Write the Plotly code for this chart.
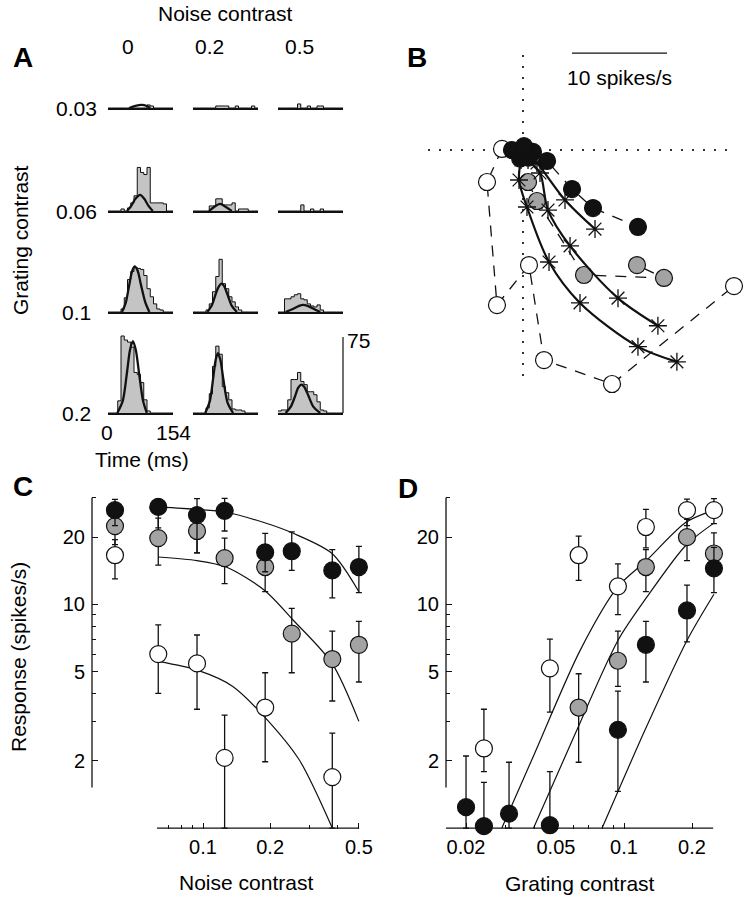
import plotly.graph_objects as go

W, H = 749, 900
FONT = "Liberation Sans, Arial, Helvetica, sans-serif"
TXT = 21
TICK_TXT = 20
INK = "#111111"
GRAY_MARK = "#a3a3a3"
HIST_FILL = "#c4c4c4"

# ======================= Panel A data =======================
A_NOISE = ["0", "0.2", "0.5"]
A_GRATING = ["0.03", "0.06", "0.1", "0.2"]
A_TIME_MAX = 154     # ms
A_BIN_MS = 7.7       # ms per bin
A_SCALE_BAR = 75     # spikes/s

HIST_G03_N0 = [0, 0, 0, 0, 0, 0, 0, 0, 0, 0, 0, 0, 3, 2, 0, 0, 0, 0, 0, 0]
HIST_G03_N02 = [0, 0, 0, 0, 0, 0, 0, 2, 2, 2, 2, 0, 0, 2, 0, 0, 0, 0, 2, 0]
HIST_G03_N05 = [0, 0, 0, 0, 0, 0, 4, 0, 0, 2, 0, 0, 2, 2, 0, 0, 0, 0, 0, 0]
HIST_G06_N0 = [0, 0, 0, 0, 2, 0, 3, 8, 15, 43, 38, 36, 43, 8, 8, 8, 8, 7, 0, 0]
HIST_G06_N02 = [0, 0, 0, 0, 0, 5, 5, 12, 12, 6, 6, 6, 8, 0, 2, 2, 2, 0, 0, 0]
HIST_G06_N05 = [0, 0, 0, 0, 0, 0, 0, 6, 0, 0, 2, 0, 0, 2, 0, 0, 0, 0, 0, 0]
HIST_G1_N0 = [0, 0, 0, 0, 3, 14, 32, 40, 44, 43, 42, 36, 23, 15, 8, 3, 2, 0, 0, 0]
HIST_G1_N02 = [0, 0, 0, 0, 2, 8, 20, 35, 52, 28, 23, 15, 10, 5, 2, 0, 0, 0, 0, 0]
HIST_G1_N05 = [0, 0, 13, 13, 15, 17, 18, 13, 12, 8, 6, 5, 7, 2, 0, 0, 0, 0, 0, 0]
HIST_G2_N0 = [0, 0, 0, 12, 76, 72, 70, 65, 40, 38, 30, 13, 2, 0, 0, 0, 0, 0, 0, 0]
HIST_G2_N02 = [0, 0, 0, 0, 5, 19, 46, 66, 58, 26, 20, 13, 4, 3, 3, 2, 0, 0, 0, 0]
HIST_G2_N05 = [2, 3, 3, 13, 33, 33, 40, 31, 28, 21, 21, 18, 11, 3, 2, 0, 0, 0, 0, 0]

# Gaussian fits (time ms, rate spikes/s)
FIT_G03_N0_T = [50, 65, 79, 92, 100]
FIT_G03_N0_R = [0, 2, 3, 2, 0]
FIT_G06_N0_T = [45, 55, 65, 76, 86, 96, 106]
FIT_G06_N0_R = [0, 5, 12, 16, 12, 5, 0]
FIT_G06_N02_T = [38, 50, 64, 78, 92]
FIT_G06_N02_R = [0, 4, 7, 4, 0]
FIT_G1_N0_T = [33, 42, 50, 57, 63, 70, 78, 88, 98]
FIT_G1_N0_R = [0, 9, 26, 40, 45, 41, 27, 10, 0]
FIT_G1_N02_T = [34, 45, 54, 61, 67, 73, 82, 92, 104]
FIT_G1_N02_R = [0, 7, 18, 25, 28, 26, 17, 6, 0]
FIT_G1_N05_T = [18, 35, 50, 59, 70, 85, 100]
FIT_G1_N05_R = [0, 3, 6, 7, 6, 3, 0]
FIT_G2_N0_T = [22, 35, 45, 52, 59, 66, 74, 83, 92]
FIT_G2_N0_R = [0, 12, 40, 62, 71, 62, 38, 12, 0]
FIT_G2_N02_T = [29, 40, 48, 54, 59, 65, 72, 82, 95]
FIT_G2_N02_R = [0, 12, 35, 53, 59, 52, 33, 10, 0]
FIT_G2_N05_T = [18, 30, 40, 48, 55, 62, 72, 84, 100]
FIT_G2_N05_R = [0, 6, 16, 25, 28, 26, 17, 6, 0]

A_HISTS = {
    ("0.03", "0"): HIST_G03_N0, ("0.03", "0.2"): HIST_G03_N02, ("0.03", "0.5"): HIST_G03_N05,
    ("0.06", "0"): HIST_G06_N0, ("0.06", "0.2"): HIST_G06_N02, ("0.06", "0.5"): HIST_G06_N05,
    ("0.1", "0"): HIST_G1_N0, ("0.1", "0.2"): HIST_G1_N02, ("0.1", "0.5"): HIST_G1_N05,
    ("0.2", "0"): HIST_G2_N0, ("0.2", "0.2"): HIST_G2_N02, ("0.2", "0.5"): HIST_G2_N05,
}
A_FITS = {
    ("0.03", "0"): (FIT_G03_N0_T, FIT_G03_N0_R),
    ("0.06", "0"): (FIT_G06_N0_T, FIT_G06_N0_R),
    ("0.06", "0.2"): (FIT_G06_N02_T, FIT_G06_N02_R),
    ("0.1", "0"): (FIT_G1_N0_T, FIT_G1_N0_R),
    ("0.1", "0.2"): (FIT_G1_N02_T, FIT_G1_N02_R),
    ("0.1", "0.5"): (FIT_G1_N05_T, FIT_G1_N05_R),
    ("0.2", "0"): (FIT_G2_N0_T, FIT_G2_N0_R),
    ("0.2", "0.2"): (FIT_G2_N02_T, FIT_G2_N02_R),
    ("0.2", "0.5"): (FIT_G2_N05_T, FIT_G2_N05_R),
}

# ======================= Panel B data (response vectors, spikes/s) =======================
B_WHITE_X = [-2.21, -3.79, -2.74, 0.63, 2.21, 9.37, 22.21]
B_WHITE_Y = [0.11, -3.37, -16.32, -12.11, -22.11, -24.63, -14.32]
B_GRAY_X = [0.53, 1.47, 6.42, 14.84, 12.0]
B_GRAY_Y = [-3.37, -5.37, -13.16, -13.47, -12.11]
B_BLACK_X = [-1.16, -0.3, 1.05, 0.6, 0.1, 2.53, 5.16, 7.37, 12.1]
B_BLACK_Y = [0.0, -0.9, -0.2, -0.8, 0.4, -1.16, -4.11, -6.11, -8.1]
B_MODEL_WHITE_X = [-0.21, -0.42, 0.42, 2.74, 6.0, 12.1, 16.2]
B_MODEL_WHITE_Y = [-1.05, -3.16, -6.0, -11.79, -16.1, -20.7, -22.3]
B_MODEL_GRAY_X = [0.53, 1.79, 2.63, 4.95, 10.0, 14.2]
B_MODEL_GRAY_Y = [-1.05, -2.42, -6.32, -10.1, -15.6, -18.5]
B_MODEL_BLACK_X = [0.74, 1.47, 4.42, 7.58]
B_MODEL_BLACK_Y = [-0.74, -1.37, -5.26, -8.32]
B_SCALE_BAR = 10          # spikes/s
B_SCALE_BAR_X0 = 5.16
B_SCALE_BAR_Y = 10.2
B_REF_V = [10.0, -24.7]   # extent of dotted vertical reference line
B_REF_H = [-10.0, 22.1]   # extent of dotted horizontal reference line

# ======================= Panel C data =======================
NOISE_CONTRAST = [0, 0.063, 0.094, 0.125, 0.19, 0.25, 0.38, 0.5]
NOISE_ZERO_POS = 0.0403   # where the "0" condition is drawn on the log axis
C_BLACK = [26.4, 27.3, 25.1, 26.2, 17.1, 17.3, 14.2, 14.7]
C_BLACK_HI = [29.5, 29.6, 29.7, 29.8, 20.8, 21.1, 17.6, 18.2]
C_BLACK_LO = [22.5, 22.0, 17.0, 21.3, 14.0, 14.2, 10.7, 11.3]
C_GRAY = [22.4, 19.8, 21.3, 16.1, 14.7, 7.4, 5.7, 6.6]
C_GRAY_HI = [27.0, 24.3, 25.0, 19.8, 18.5, 9.6, 7.6, 8.4]
C_GRAY_LO = [18.5, 15.0, 17.0, 12.4, 11.4, 4.95, 3.7, 4.5]
C_WHITE = [16.6, 6.0, 5.45, 2.06, 3.46, None, 1.69, None]
C_WHITE_HI = [19.5, 8.1, 7.3, 3.2, 4.95, None, 2.66, None]
C_WHITE_LO = [13.0, 4.0, 3.4, 1.0, 1.98, None, 1.0, None]
C_FIT_BLACK_X = [0.063, 0.094, 0.125, 0.186, 0.254, 0.379, 0.5]
C_FIT_BLACK_Y = [27.3, 26.6, 25.9, 23.3, 20.8, 16.9, 11.4]
C_FIT_GRAY_X = [0.063, 0.094, 0.127, 0.188, 0.254, 0.379, 0.5]
C_FIT_GRAY_Y = [16.3, 15.7, 14.7, 11.6, 8.5, 5.45, 3.0]
C_FIT_WHITE_X = [0.063, 0.095, 0.136, 0.19, 0.27, 0.38]
C_FIT_WHITE_Y = [5.56, 5.07, 4.3, 3.12, 2.02, 1.0]

# ======================= Panel D data =======================
GRATING_CONTRAST = [0.020, 0.024, 0.031, 0.047, 0.063, 0.094, 0.125, 0.19, 0.25]
D_WHITE = [None, 2.27, None, 5.18, 16.6, 12.05, 22.2, 26.4, 26.4]
D_WHITE_HI = [None, 3.4, None, 7.0, 20.2, 15.2, 26.6, 29.6, 29.7]
D_WHITE_LO = [None, 1.79, None, 3.3, 12.8, 9.0, 17.9, 22.5, 23.0]
D_GRAY = [None, None, None, None, 3.46, 5.6, 14.7, 20.0, 16.9]
D_GRAY_HI = [None, None, None, None, 4.9, 7.6, 17.6, 24.0, 20.9]
D_GRAY_LO = [None, None, None, None, 1.97, 4.3, 11.4, 15.7, 13.5]
D_BLACK = [1.24, 1.02, 1.16, 1.03, None, 2.75, 6.6, 9.4, 14.5]
D_BLACK_HI = [2.1, 1.6, 1.97, 1.79, None, 4.1, 8.4, 12.2, 18.0]
D_BLACK_LO = [1.0, 1.0, 1.0, 1.0, None, 1.46, 4.5, 6.8, 11.3]
D_FIT_WHITE_X = [0.0288, 0.04, 0.0638, 0.094, 0.1264, 0.188, 0.25]
D_FIT_WHITE_Y = [1.0, 2.13, 6.2, 12.0, 15.8, 23.3, 26.4]
D_FIT_GRAY_X = [0.0398, 0.06, 0.094, 0.1264, 0.188, 0.25]
D_FIT_GRAY_Y = [1.0, 2.56, 6.9, 10.8, 18.4, 23.1]
D_FIT_BLACK_X = [0.08, 0.125, 0.19, 0.25]
D_FIT_BLACK_Y = [1.0, 2.8, 6.9, 11.1]

# ======================= helpers =======================
def px_x(p):
    return p / W


def px_y(p):
    return 1 - p / H


fig = go.Figure()
layout = dict(
    width=W, height=H, margin=dict(l=0, r=0, t=0, b=0),
    paper_bgcolor="white", plot_bgcolor="rgba(0,0,0,0)",
    showlegend=False, template="none",
    font=dict(family=FONT, size=TXT, color="black"),
)
annotations = []
shapes = []


def ax_names(k):
    s = "" if k == 1 else str(k)
    return "xaxis" + s, "yaxis" + s, "x" + s, "y" + s


def ann(text, x, y, size=TXT, xanchor="center", yanchor="middle", angle=0):
    annotations.append(dict(text=text, x=px_x(x), y=px_y(y), xref="paper", yref="paper",
                            showarrow=False, xanchor=xanchor, yanchor=yanchor,
                            textangle=angle, font=dict(family=FONT, size=size, color="black")))


# ======================= Panel A =======================
A_COLS_PX = [(108, 173), (193, 258), (278, 343)]
A_ROWS_BASE_PX = [108, 211, 312, 413]
A_PANEL_H_PX = 92
A_PX_PER_UNIT = 76 / 75

k = 0
for r, g in enumerate(A_GRATING):
    for c, n in enumerate(A_NOISE):
        k += 1
        xn, yn, xr, yr = ax_names(k)
        x0, x1 = A_COLS_PX[c]
        base = A_ROWS_BASE_PX[r]
        layout[xn] = dict(domain=[px_x(x0), px_x(x1)], range=[0, A_TIME_MAX], anchor=yr,
                          showline=True, linecolor=INK, linewidth=1.5, ticks="",
                          showticklabels=False, showgrid=False, zeroline=False)
        layout[yn] = dict(domain=[px_y(base), px_y(base - A_PANEL_H_PX)],
                          range=[0, A_PANEL_H_PX / A_PX_PER_UNIT], anchor=xr, visible=False)
        counts = A_HISTS[(g, n)]
        edges = [i * A_BIN_MS for i in range(len(counts) + 1)]
        fig.add_trace(go.Scatter(x=edges, y=counts + [counts[-1]], mode="lines",
                                 line=dict(shape="hv", color=INK, width=1),
                                 fill="tozeroy", fillcolor=HIST_FILL,
                                 xaxis=xr, yaxis=yr, hoverinfo="skip"))
        if (g, n) in A_FITS:
            t, v = A_FITS[(g, n)]
            fig.add_trace(go.Scatter(x=t, y=v, mode="lines",
                                     line=dict(shape="spline", smoothing=0.8, color=INK, width=2.3),
                                     xaxis=xr, yaxis=yr, hoverinfo="skip"))

# scale bar for A
bar_x = A_COLS_PX[2][1]
bar_base = A_ROWS_BASE_PX[3]
shapes.append(dict(type="line", xref="paper", yref="paper",
                   x0=px_x(bar_x), x1=px_x(bar_x), y0=px_y(bar_base),
                   y1=px_y(bar_base - A_SCALE_BAR * A_PX_PER_UNIT),
                   line=dict(color=INK, width=1.2)))

ann("<b>A</b>", 23, 57, size=28)
ann("Noise contrast", 225, 14)
for lab, xp in zip(A_NOISE, [128, 210, 299]):
    ann(lab, xp, 47)
for lab, yp in zip(A_GRATING, A_ROWS_BASE_PX):
    ann(lab, 76, yp)
ann("Grating contrast", 21, 240, angle=-90)
ann("0", 107, 433)
ann(str(A_TIME_MAX), 173, 433)
ann("Time (ms)", 142, 459)
ann(str(A_SCALE_BAR), 358, 340)

# ======================= Panel B =======================
k += 1
xn, yn, xr, yr = ax_names(k)
B_ORIGIN_PX = (523, 150)
B_PX_PER_UNIT = 9.5
B_DOM_X = (420, 745)
B_DOM_Y = (40, 400)
layout[xn] = dict(domain=[px_x(B_DOM_X[0]), px_x(B_DOM_X[1])], anchor=yr, visible=False,
                  range=[(B_DOM_X[0] - B_ORIGIN_PX[0]) / B_PX_PER_UNIT,
                         (B_DOM_X[1] - B_ORIGIN_PX[0]) / B_PX_PER_UNIT])
layout[yn] = dict(domain=[px_y(B_DOM_Y[1]), px_y(B_DOM_Y[0])], anchor=xr, visible=False,
                  range=[(B_ORIGIN_PX[1] - B_DOM_Y[1]) / B_PX_PER_UNIT,
                         (B_ORIGIN_PX[1] - B_DOM_Y[0]) / B_PX_PER_UNIT])
dotted = dict(color="#333333", width=2, dash="2px,9px")
fig.add_trace(go.Scatter(x=[0, 0], y=B_REF_V, mode="lines", line=dotted, xaxis=xr, yaxis=yr, hoverinfo="skip"))
fig.add_trace(go.Scatter(x=B_REF_H, y=[0, 0], mode="lines", line=dotted, xaxis=xr, yaxis=yr, hoverinfo="skip"))
fig.add_trace(go.Scatter(x=[B_SCALE_BAR_X0, B_SCALE_BAR_X0 + B_SCALE_BAR], y=[B_SCALE_BAR_Y] * 2,
                         mode="lines", line=dict(color=INK, width=1.2), xaxis=xr, yaxis=yr, hoverinfo="skip"))
annotations.append(dict(text=f"{B_SCALE_BAR} spikes/s", x=B_SCALE_BAR_X0 + B_SCALE_BAR / 2,
                        y=B_SCALE_BAR_Y - 2.6, xref=xr, yref=yr, showarrow=False,
                        font=dict(family=FONT, size=TXT, color="black")))

dashed = dict(color=INK, width=1.3, dash="11px,9px")
for bx, by, fillc in [(B_WHITE_X, B_WHITE_Y, "white"), (B_GRAY_X, B_GRAY_Y, GRAY_MARK),
                      (B_BLACK_X, B_BLACK_Y, INK)]:
    fig.add_trace(go.Scatter(x=bx, y=by, mode="lines+markers", line=dashed,
                             marker=dict(symbol="circle", size=17, color=fillc,
                                         line=dict(color=INK, width=1.2)),
                             cliponaxis=False, xaxis=xr, yaxis=yr, hoverinfo="skip"))
for mx, my in [(B_MODEL_WHITE_X, B_MODEL_WHITE_Y), (B_MODEL_GRAY_X, B_MODEL_GRAY_Y),
               (B_MODEL_BLACK_X, B_MODEL_BLACK_Y)]:
    fig.add_trace(go.Scatter(x=mx, y=my, mode="lines+markers",
                             line=dict(color=INK, width=2.2, shape="spline", smoothing=0.9),
                             marker=dict(symbol="asterisk-open", size=15,
                                         line=dict(color=INK, width=1.3)),
                             cliponaxis=False, xaxis=xr, yaxis=yr, hoverinfo="skip"))
ann("<b>B</b>", 417, 57, size=28)

# ======================= Panels C and D =======================
CD_DOM_Y = (490, 842)          # px, plot area (extends a little below the x axis)
CD_XAXIS_PX = 829              # px, where the x axis sits
CD_Y_RANGE = [0.301 - (CD_DOM_Y[1] - 761) / 223, 1.301 + (537 - CD_DOM_Y[0]) / 223]
Y_MAJOR = [2, 5, 10, 20]
Y_MINOR = [3, 4, 6, 7, 8, 9, 30]
SPINE_Y = (1.52, 30)


def cd_axes(k, dom_x, x_range, x_major, x_minor, x_spine):
    xn, yn, xr, yr = ax_names(k)
    tick = dict(ticks="inside", ticklen=6, tickwidth=1.3, tickcolor=INK,
                showgrid=False, zeroline=False, showline=False,
                tickfont=dict(family=FONT, size=TICK_TXT, color="black"))
    layout[xn] = dict(type="log", domain=[px_x(dom_x[0]), px_x(dom_x[1])], range=x_range,
                      anchor="free", position=px_y(CD_XAXIS_PX),
                      tickmode="array", tickvals=x_major, ticktext=[str(v) for v in x_major],
                      minor=dict(tickmode="array", tickvals=x_minor, ticks="inside", ticklen=4,
                                 tickwidth=1.3, tickcolor=INK, showgrid=False),
                      ticklabelstandoff=4, **tick)
    layout[yn] = dict(type="log", domain=[px_y(CD_DOM_Y[1]), px_y(CD_DOM_Y[0])], range=CD_Y_RANGE,
                      anchor=xr, tickmode="array", tickvals=Y_MAJOR, ticktext=[str(v) for v in Y_MAJOR],
                      minor=dict(tickmode="array", tickvals=Y_MINOR, ticks="inside", ticklen=4,
                                 tickwidth=1.3, tickcolor=INK, showgrid=False),
                      ticklabelstandoff=6, **tick)
    shapes.append(dict(type="line", xref=xr + " domain", yref=yr, x0=0, x1=0,
                       y0=SPINE_Y[0], y1=SPINE_Y[1], line=dict(color=INK, width=1.3)))
    shapes.append(dict(type="line", xref=xr, yref=yr, x0=x_spine[0], x1=x_spine[1],
                       y0=1, y1=1, line=dict(color=INK, width=1.3)))
    return xr, yr


def series(xr, yr, xs, v, hi, lo, fillc):
    plus = [0 if a is None else h - a for a, h in zip(v, hi)]
    minus = [0 if a is None else a - l for a, l in zip(v, lo)]
    fig.add_trace(go.Scatter(x=xs, y=v, mode="markers",
                             marker=dict(symbol="circle", size=17, color=fillc,
                                         line=dict(color=INK, width=1.2)),
                             error_y=dict(type="data", symmetric=False, array=plus, arrayminus=minus,
                                          thickness=1.3, width=3, color=INK),
                             cliponaxis=False, xaxis=xr, yaxis=yr, hoverinfo="skip"))


def fit(xr, yr, xs, ys):
    fig.add_trace(go.Scatter(x=xs, y=ys, mode="lines",
                             line=dict(color=INK, width=1.2, shape="spline", smoothing=0.8),
                             xaxis=xr, yaxis=yr, hoverinfo="skip"))


# --- C ---
k += 1
xr, yr = cd_axes(k, (92, 372), [-1.4978, -0.2422], [0.1, 0.2, 0.5],
                 [0.07, 0.08, 0.09, 0.3, 0.4], (0.0622, 0.5))
noise_pos = [NOISE_ZERO_POS if v == 0 else v for v in NOISE_CONTRAST]
fit(xr, yr, C_FIT_WHITE_X, C_FIT_WHITE_Y)
fit(xr, yr, C_FIT_GRAY_X, C_FIT_GRAY_Y)
fit(xr, yr, C_FIT_BLACK_X, C_FIT_BLACK_Y)
series(xr, yr, noise_pos, C_WHITE, C_WHITE_HI, C_WHITE_LO, "white")
series(xr, yr, noise_pos, C_GRAY, C_GRAY_HI, C_GRAY_LO, GRAY_MARK)
series(xr, yr, noise_pos, C_BLACK, C_BLACK_HI, C_BLACK_LO, INK)
ann("<b>C</b>", 23, 486, size=28)
ann("Response (spikes/s)", 18, 657, angle=-90)
ann("Noise contrast", 246, 882)

# --- D ---
k += 1
xr, yr = cd_axes(k, (446, 728), [-1.7876, -0.5398], [0.02, 0.05, 0.1, 0.2],
                 [0.03, 0.04, 0.06, 0.07, 0.08, 0.09], (0.0163, 0.248))
fit(xr, yr, D_FIT_WHITE_X, D_FIT_WHITE_Y)
fit(xr, yr, D_FIT_GRAY_X, D_FIT_GRAY_Y)
fit(xr, yr, D_FIT_BLACK_X, D_FIT_BLACK_Y)
series(xr, yr, GRATING_CONTRAST, D_WHITE, D_WHITE_HI, D_WHITE_LO, "white")
series(xr, yr, GRATING_CONTRAST, D_GRAY, D_GRAY_HI, D_GRAY_LO, GRAY_MARK)
series(xr, yr, GRATING_CONTRAST, D_BLACK, D_BLACK_HI, D_BLACK_LO, INK)
ann("<b>D</b>", 408, 488, size=28)
ann("Grating contrast", 580, 883)

layout["annotations"] = annotations
layout["shapes"] = shapes
fig.update_layout(**layout)
fig.write_html("out.html", config={"displayModeBar": False},
               post_script="document.body.style.margin='0';")
